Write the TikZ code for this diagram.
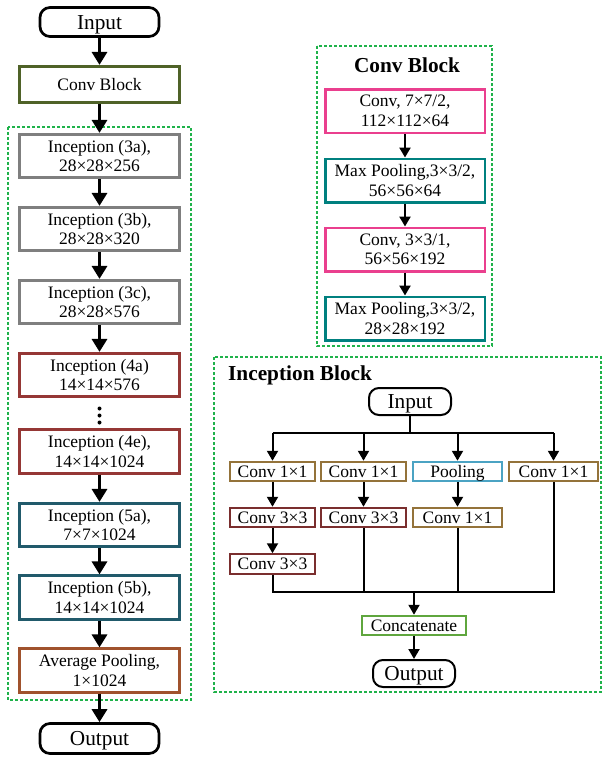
\documentclass[tikz,border=0pt]{standalone}
\usepackage{fontspec}
\setmainfont{Liberation Serif}
\usetikzlibrary{arrows.meta}
\newcommand\fsn{\fontsize{17.5}{19.5}\selectfont}
\newcommand\fsb{\fontsize{21.3}{24}\selectfont}
\definecolor{dgreen}{HTML}{1FB24A}
\definecolor{olivec}{HTML}{4F6228}
\definecolor{grayc}{HTML}{7F7F7F}
\definecolor{redc}{HTML}{953735}
\definecolor{tealc}{HTML}{215A6B}
\definecolor{orangec}{HTML}{A0522D}
\definecolor{pinkc}{HTML}{EA3F8E}
\definecolor{mpc}{HTML}{00807F}
\definecolor{goldc}{HTML}{94733A}
\definecolor{c33}{HTML}{7A2E2E}
\definecolor{poolc}{HTML}{4BA3C3}
\definecolor{catc}{HTML}{5FA63E}
\begin{document}
\begin{tikzpicture}[x=1pt,y=-1pt,
  lbox/.style={draw, line width=2.7pt, minimum width=160pt, minimum height=43.5pt, inner sep=0pt, align=center, font=\fsn},
  term/.style={draw=black, rounded corners=10pt, inner sep=0pt, font=\fsb, text height=14pt, text depth=0pt},
  cbox/.style={draw, line width=2.5pt, minimum width=159.5pt, minimum height=43.5pt, inner sep=0pt, align=center, font=\fsn},
  ibox/.style={draw, line width=2pt, minimum height=19.5pt, inner sep=0pt, font=\fsn, text height=11.5pt, text depth=0pt},
  region/.style={draw=dgreen, line width=1.3pt, dash pattern=on 3pt off 2pt},
  bigarrow/.style={line width=3.5pt, -{Triangle[width=15pt,length=13pt]}},
  midarrow/.style={line width=2.4pt, -{Triangle[width=11pt,length=10pt]}},
  smallarrow/.style={line width=2pt, -{Triangle[width=11pt,length=10pt]}},
  iline/.style={line width=2pt}
]
\useasboundingbox (0,0) rectangle (602,758);

% ---------- left column ----------
\draw[region] (8,127) rectangle (191,700);
\node[term, line width=2.7pt, minimum width=119pt, minimum height=29pt] (in1) at (99.5,22) {Input};
\node[lbox, draw=olivec, minimum height=36.5pt] (cb) at (99.5,84.5) {Conv Block};
\node[lbox, draw=grayc] (i3a) at (99.5,156) {Inception (3a),\\28×28×256};
\node[lbox, draw=grayc] (i3b) at (99.5,229) {Inception (3b),\\28×28×320};
\node[lbox, draw=grayc] (i3c) at (99.5,302) {Inception (3c),\\28×28×576};
\node[lbox, draw=redc] (i4a) at (99.5,375) {Inception (4a)\\14×14×576};
\node[lbox, draw=redc] (i4e) at (99.5,451.5) {Inception (4e),\\14×14×1024};
\node[lbox, draw=tealc] (i5a) at (99.5,525) {Inception (5a),\\7×7×1024};
\node[lbox, draw=tealc] (i5b) at (99.5,597.5) {Inception (5b),\\14×14×1024};
\node[lbox, draw=orangec] (ap) at (99.5,670.5) {Average Pooling,\\1×1024};
\node[term, line width=2.7pt, minimum width=119pt, minimum height=30pt] (out1) at (99.5,738.5) {Output};
\fill (99.5,408.5) circle (2pt) (99.5,415.5) circle (2pt) (99.5,422.5) circle (2pt);
\draw[bigarrow] (in1) -- (cb);
\draw[bigarrow] (cb) -- (i3a);
\draw[bigarrow] (i3a) -- (i3b);
\draw[bigarrow] (i3b) -- (i3c);
\draw[bigarrow] (i3c) -- (i4a);
\draw[bigarrow] (i4e) -- (i5a);
\draw[bigarrow] (i5a) -- (i5b);
\draw[bigarrow] (i5b) -- (ap);
\draw[bigarrow] (ap) -- (out1);

% ---------- Conv Block ----------
\draw[region] (317,46) rectangle (492,346);
\node[font=\fsb\bfseries] (cbt) at (407,65.5) {Conv Block};
\node[cbox, draw=pinkc] (c1) at (405,111) {Conv, 7×7/2,\\112×112×64};
\node[cbox, draw=mpc] (m1) at (405,180.5) {Max Pooling,3×3/2,\\56×56×64};
\node[cbox, draw=pinkc] (c2) at (405,249.5) {Conv, 3×3/1,\\56×56×192};
\node[cbox, draw=mpc] (m2) at (405,318.5) {Max Pooling,3×3/2,\\28×28×192};
\draw[midarrow] (c1) -- (m1);
\draw[midarrow] (m1) -- (c2);
\draw[midarrow] (c2) -- (m2);

% ---------- Inception Block ----------
\draw[region] (214,357) rectangle (601,692);
\node[font=\fsb\bfseries, anchor=west, inner sep=0pt] (ibt) at (228,375.5) {Inception Block};
\node[term, line width=2pt, minimum width=82pt, minimum height=27pt] (iin) at (410,401.5) {Input};
\coordinate (br) at (410,433);
\node[ibox, draw=goldc, minimum width=85pt] (b11) at (272.5,471.5) {Conv 1×1};
\node[ibox, draw=goldc, minimum width=85pt] (b21) at (363.5,471.5) {Conv 1×1};
\node[ibox, draw=poolc, minimum width=89pt] (pl) at (457.5,471.5) {Pooling};
\node[ibox, draw=goldc, minimum width=89pt] (b41) at (553.5,471.5) {Conv 1×1};
\node[ibox, draw=c33, minimum width=85pt] (b12) at (272.5,517.5) {Conv 3×3};
\node[ibox, draw=c33, minimum width=85pt] (b22) at (363.5,517.5) {Conv 3×3};
\node[ibox, draw=goldc, minimum width=89pt] (p2) at (457.5,517.5) {Conv 1×1};
\node[ibox, draw=c33, minimum width=85pt] (b13) at (272.5,564) {Conv 3×3};
\coordinate (mg) at (414,592);
\node[ibox, draw=catc, minimum width=104pt] (cat) at (414,625.5) {Concatenate};
\node[term, line width=2pt, minimum width=82pt, minimum height=27pt] (iout) at (414,673.5) {Output};

\draw[iline] (iin.south) -- (br);
\draw[iline] (b11.north |- br) -- (b41.north |- br);
\draw[smallarrow] (b11.north |- br) -- (b11.north);
\draw[smallarrow] (b21.north |- br) -- (b21.north);
\draw[smallarrow] (pl.north |- br) -- (pl.north);
\draw[smallarrow] (b41.north |- br) -- (b41.north);
\draw[smallarrow] (b11) -- (b12);
\draw[smallarrow] (b21) -- (b22);
\draw[smallarrow] (pl) -- (p2);
\draw[smallarrow] (b12) -- (b13);
\draw[iline] (b13.south) -- (b13.south |- mg) -- (b41.south |- mg) -- (b41.south);
\draw[iline] (b22.south) -- (b22.south |- mg);
\draw[iline] (p2.south) -- (p2.south |- mg);
\draw[smallarrow] (mg) -- (cat.north);
\draw[smallarrow] (cat) -- (iout);
\end{tikzpicture}
\end{document}
